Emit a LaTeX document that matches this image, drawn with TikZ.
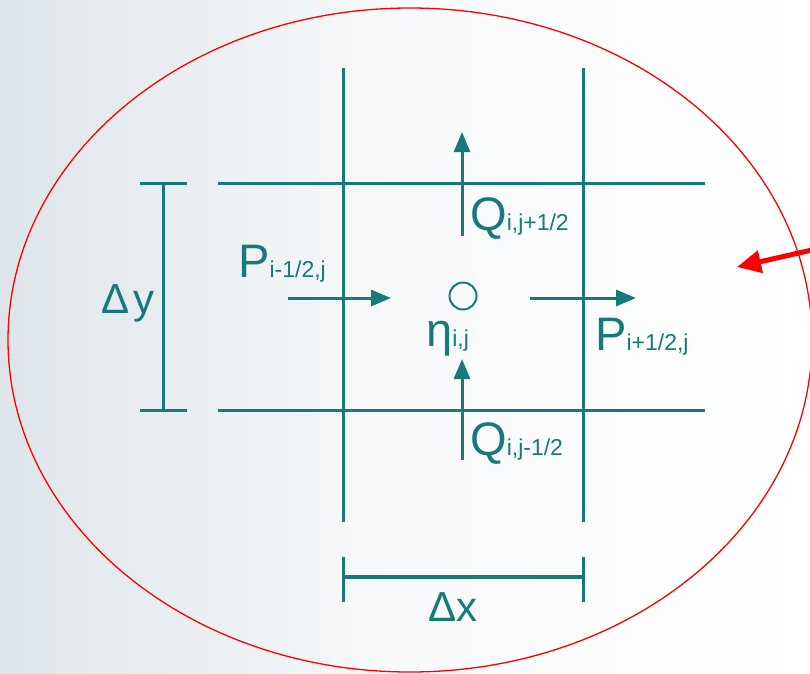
\documentclass[tikz,border=0pt]{standalone}
\usepackage{fontspec}
\setmainfont{Liberation Sans}
\usetikzlibrary{arrows.meta,shapes.geometric}
\definecolor{teal1}{RGB}{22,122,122}
\definecolor{bgl}{RGB}{222,229,234}
\tikzset{
  grid/.style={draw=teal1, line width=3pt},
  flux/.style={draw=teal1, line width=3pt, -{Triangle[length=20pt,width=16pt]}},
  lab/.style={text=teal1, inner sep=0pt, anchor=base west, font=\fontsize{47}{47}\selectfont},
  dlab/.style={text=teal1, inner sep=0pt, anchor=base west, font=\fontsize{42}{42}\selectfont},
}
\newcommand{\sbs}[1]{{\fontsize{23}{23}\selectfont #1}}
\begin{document}
\begin{tikzpicture}[x=1pt,y=-1pt]
\useasboundingbox (0,0) rectangle (810,673);
\shade[left color=bgl, right color=white, middle color=white!80!bgl] (0,0) rectangle (810,673);
% grid lines
\coordinate (v1t) at (343,68); \coordinate (v1b) at (343,522);
\coordinate (v2t) at (583,68); \coordinate (v2b) at (583,522);
\coordinate (h1l) at (218,183); \coordinate (h1r) at (705,183);
\coordinate (h2l) at (218,410); \coordinate (h2r) at (705,410);
\draw[grid] (v1t) -- (v1b);
\draw[grid] (v2t) -- (v2b);
\draw[grid] (h1l) -- (h1r);
\draw[grid] (h2l) -- (h2r);
% dy bracket
\coordinate (dyt) at (163,183); \coordinate (dyb) at (163,410);
\draw[grid] (dyt) -- (dyb);
\draw[grid] (140,183) -- (187,183);
\draw[grid] (140,410) -- (187,410);
% dx bracket
\coordinate (dxl) at (343,577); \coordinate (dxr) at (583,577);
\draw[grid, line width=3.6pt] (dxl) -- (dxr);
\draw[grid] (343,557) -- (343,602);
\draw[grid] (583,557) -- (583,602);
% centre
\node[circle, draw=teal1, line width=2pt, minimum size=27pt, inner sep=0pt] (c) at (463,296) {};
% flux arrows
\coordinate (pa1) at (288,298); \coordinate (pa2) at (391,298);
\coordinate (pb1) at (530,298); \coordinate (pb2) at (636,298);
\coordinate (qa1) at (462,236); \coordinate (qa2) at (462,132);
\coordinate (qb1) at (462,460); \coordinate (qb2) at (462,359);
\draw[flux] (pa1) -- (pa2);
\draw[flux] (pb1) -- (pb2);
\draw[flux] (qa1) -- (qa2);
\draw[flux] (qb1) -- (qb2);
% labels
\node[lab] (pl) at (238,277) {P\sbs{i-1/2,j}};
\node[lab] (pr) at (595,350) {P\sbs{i+1/2,j}};
\node[lab] (qt) at (470,230) {Q\sbs{i,j+1/2}};
\node[lab] (qb) at (470,455) {Q\sbs{i,j-1/2}};
\node[lab] (eta) at (426,346) {η\sbs{i,j}};
\node[dlab] (dy) at (101,313) {Δ\kern4pt y};
\node[dlab] (dx) at (428,621) {Δx};
% red ellipse and arrow
\node[ellipse, draw=red, line width=1.3pt, minimum width=804pt, minimum height=664pt, inner sep=0pt] (ell) at (410,340) {};
\coordinate (ra1) at (812,250); \coordinate (ra2) at (737,267);
\draw[red, line width=5pt, -{Triangle[length=24pt,width=22pt]}] (ra1) -- (ra2);
\end{tikzpicture}
\end{document}
